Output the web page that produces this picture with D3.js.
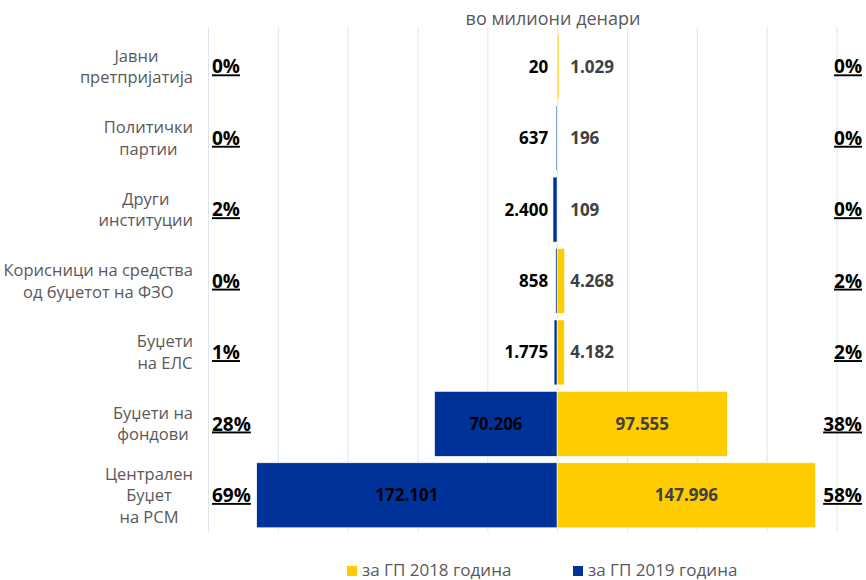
<!DOCTYPE html>
<html>
<head>
<meta charset="utf-8">
<script src="https://cdn.jsdelivr.net/npm/d3@7/dist/d3.min.js"></script>
<style>
  html, body { margin: 0; padding: 0; background: #ffffff; }
  svg { display: block; font-family: "Open Sans", "Noto Sans", sans-serif; }
</style>
</head>
<body>
<svg id="chart" width="866" height="580"></svg>
<script>
// ---- data ----
const categories = [
  ["Јавни", "претпријатија"],
  ["Политички", "партии"],
  ["Други", "институции"],
  ["Корисници на средства", "од буџетот на ФЗО"],
  ["Буџети", "на ЕЛС"],
  ["Буџети на", "фондови"],
  ["Централен", "Буџет", "на РСМ"]
];
const values2018 = [1029, 196, 109, 4268, 4182, 97555, 147996];
const values2019 = [20, 637, 2400, 858, 1775, 70206, 172101];
const share2019 = ["0%", "0%", "2%", "0%", "1%", "28%", "69%"];
const share2018 = ["0%", "0%", "0%", "2%", "2%", "38%", "58%"];
const gridTicks = [-200000, -160000, -120000, -80000, -40000, 0, 40000, 80000, 120000, 160000];
const seriesNames = ["за ГП 2018 година", "за ГП 2019 година"];
const unitTitle = "во милиони денари";

// ---- setup ----
const svg = d3.select("#chart");
const colors = { y2018: "#FFCC00", y2019: "#003399" };
const locale = d3.formatLocale({ decimal: ",", thousands: ".", grouping: [3], currency: ["", ""] });
const fmt = locale.format(",d");

const x = d3.scaleLinear().domain([-200000, 160000]).range([208, 836.5]);
const y = d3.scaleBand().domain(d3.range(categories.length)).range([31, 531])
  .paddingInner(0.09).paddingOuter(0.045);

// gridlines
const gridAxis = d3.axisBottom(x).tickValues(gridTicks).tickSize(-(532 - 27)).tickFormat("");
const gAxis = svg.append("g").attr("transform", "translate(0,532)").call(gridAxis);
gAxis.select(".domain").remove();
gAxis.selectAll(".tick line").attr("stroke", "#dce6f2").attr("stroke-width", 1);

// title
svg.append("text").attr("x", 553).attr("y", 25).attr("text-anchor", "middle")
  .attr("font-size", 18).attr("fill", "#595959").text(unitTitle);

const rows = categories.map((c, i) => ({ i, lines: c, v18: values2018[i], v19: values2019[i] }));

// bars 2019 (left, blue)
svg.append("g").selectAll("rect").data(rows).join("rect")
  .attr("x", d => x(-d.v19))
  .attr("y", d => y(d.i))
  .attr("width", d => x(0) - x(-d.v19))
  .attr("height", y.bandwidth())
  .attr("fill", colors.y2019)
  .attr("stroke", "#ffffff").attr("stroke-width", 0.6);

// bars 2018 (right, yellow)
svg.append("g").selectAll("rect").data(rows).join("rect")
  .attr("x", x(0))
  .attr("y", d => y(d.i))
  .attr("width", d => x(d.v18) - x(0))
  .attr("height", y.bandwidth())
  .attr("fill", colors.y2018)
  .attr("stroke", "#ffffff").attr("stroke-width", 0.6);

const cy = i => y(i) + y.bandwidth() / 2;

// value labels 2019
svg.append("g").selectAll("text").data(rows).join("text")
  .attr("x", d => {
    const w = x(0) - x(-d.v19);
    return w > 70 ? (x(-d.v19) + x(0)) / 2 : x(0) - 9;
  })
  .attr("text-anchor", d => (x(0) - x(-d.v19)) > 70 ? "middle" : "end")
  .attr("y", d => cy(d.i))
  .attr("dy", "0.35em")
  .attr("font-size", 17).attr("font-weight", "bold").attr("fill", "#000000")
  .text(d => fmt(d.v19));

// value labels 2018
svg.append("g").selectAll("text").data(rows).join("text")
  .attr("x", d => {
    const w = x(d.v18) - x(0);
    return w > 70 ? (x(d.v18) + x(0)) / 2 : x(0) + 13;
  })
  .attr("text-anchor", d => (x(d.v18) - x(0)) > 70 ? "middle" : "start")
  .attr("y", d => cy(d.i))
  .attr("dy", "0.35em")
  .attr("font-size", 17).attr("font-weight", "bold").attr("fill", "#404040")
  .text(d => fmt(d.v18));

// share labels
svg.append("g").selectAll("text").data(rows).join("text")
  .attr("x", 212).attr("y", d => cy(d.i)).attr("dy", "0.35em")
  .attr("font-size", 19).attr("font-weight", "bold").attr("fill", "#000")
  .attr("text-decoration", "underline")
  .text(d => share2019[d.i]);
svg.append("g").selectAll("text").data(rows).join("text")
  .attr("x", 862).attr("y", d => cy(d.i)).attr("dy", "0.35em")
  .attr("text-anchor", "end")
  .attr("font-size", 19).attr("font-weight", "bold").attr("fill", "#000")
  .attr("text-decoration", "underline")
  .text(d => share2018[d.i]);

// category labels (multi-line, centred block, right aligned)
const lineH = 21.5;
const catG = svg.append("g");
rows.forEach(d => {
  const g = catG.append("g");
  const texts = d.lines.map((t, k) => g.append("text")
    .attr("font-size", 16.5).attr("fill", "#595959")
    .attr("text-anchor", "middle")
    .attr("y", cy(d.i) + (k - (d.lines.length - 1) / 2) * lineH)
    .attr("dy", "0.35em")
    .text(t));
  const maxW = d3.max(texts, t => t.node().getComputedTextLength());
  texts.forEach(t => t.attr("x", 193 - maxW / 2));
});

// legend
const legend = [
  { name: seriesNames[0], color: colors.y2018, x: 347 },
  { name: seriesNames[1], color: colors.y2019, x: 573 }
];
const lg = svg.append("g").selectAll("g").data(legend).join("g")
  .attr("transform", d => `translate(${d.x},566)`);
lg.append("rect").attr("width", 10).attr("height", 10).attr("fill", d => d.color);
lg.append("text").attr("x", 15).attr("y", 9.5)
  .attr("font-size", 17).attr("fill", "#595959").text(d => d.name);
</script>
</body>
</html>
